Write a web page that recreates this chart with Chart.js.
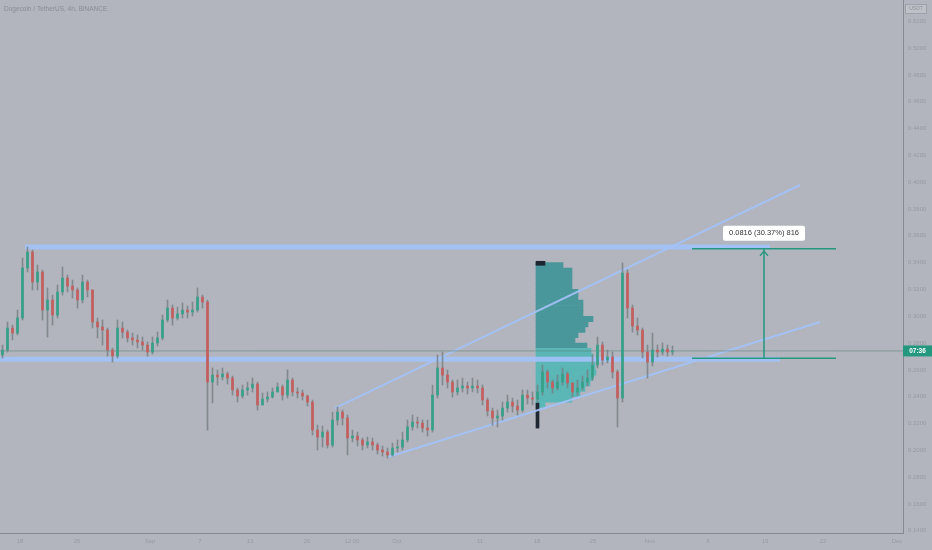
<!DOCTYPE html>
<html lang="en">
<head>
<meta charset="UTF-8">
<title>Dogecoin / TetherUS, 4h</title>
<script src="https://cdn.jsdelivr.net/npm/chart.js"></script>
<style>
  html, body { margin: 0; padding: 0; background: #b2b5bd; }
  #wrap { width: 932px; height: 550px; }
</style>
</head>
<body>
<div id="wrap"><canvas id="chart" width="932" height="550"></canvas></div>
<script>
// candles (one slot = one candle)
const closes = [
  0.2748,0.2912,0.2875,0.2987,0.3360,0.3479,0.3255,0.3330,0.3046,0.3121,
  0.3009,0.3181,0.3285,0.3225,0.3196,0.3121,0.3255,0.3196,0.2957,0.2920,
  0.2897,0.2748,0.2703,0.2912,0.2882,0.2838,0.2823,0.2808,0.2785,0.2733,
  0.2800,0.2838,0.2972,0.3061,0.2987,0.3017,0.3046,0.3031,0.3046,0.3143,
  0.3106,0.2509,0.2561,0.2547,0.2569,0.2539,0.2450,0.2405,0.2450,0.2465,
  0.2494,0.2338,0.2382,0.2397,0.2435,0.2472,0.2412,0.2524,0.2435,0.2427,
  0.2405,0.2360,0.2151,0.2099,0.2136,0.2039,0.2226,0.2285,0.2241,0.2092,
  0.2106,0.2077,0.2039,0.2062,0.2039,0.2002,0.1987,0.1965,0.2017,0.2024,
  0.2077,0.2174,0.2211,0.2203,0.2166,0.2151,0.2412,0.2614,0.2561,0.2509,
  0.2435,0.2465,0.2479,0.2465,0.2479,0.2465,0.2375,0.2293,0.2241,0.2256,
  0.2315,0.2360,0.2330,0.2300,0.2412,0.2390,0.2382,0.2435,0.2584,0.2509,
  0.2465,0.2509,0.2569,0.2502,0.2435,0.2465,0.2509,0.2539,0.2636,0.2785,
  0.2673,0.2696,0.2584,0.2390,0.3322,0.3061,0.2927,0.2897,0.2733,0.2658,
  0.2748,0.2733,0.2755,0.2733,0.2741
];
const highs = [
  0.2785,0.2957,0.2934,0.3046,0.3434,0.3516,0.3494,0.3382,0.3345,0.3211,
  0.3158,0.3233,0.3367,0.3307,0.3270,0.3211,0.3307,0.3270,0.3196,0.2987,
  0.2972,0.2912,0.2763,0.2972,0.2957,0.2897,0.2875,0.2860,0.2845,0.2808,
  0.2845,0.2882,0.3009,0.3121,0.3084,0.3069,0.3099,0.3076,0.3106,0.3211,
  0.3158,0.3121,0.2614,0.2599,0.2614,0.2584,0.2554,0.2465,0.2487,0.2509,
  0.2539,0.2509,0.2427,0.2435,0.2465,0.2502,0.2487,0.2599,0.2539,0.2465,
  0.2450,0.2412,0.2375,0.2188,0.2181,0.2151,0.2285,0.2323,0.2300,0.2263,
  0.2151,0.2136,0.2092,0.2099,0.2092,0.2054,0.2032,0.2017,0.2054,0.2077,
  0.2136,0.2226,0.2263,0.2248,0.2226,0.2226,0.2487,0.2711,0.2733,0.2599,
  0.2524,0.2524,0.2539,0.2509,0.2539,0.2524,0.2487,0.2390,0.2315,0.2300,
  0.2360,0.2412,0.2390,0.2375,0.2450,0.2450,0.2435,0.2487,0.2636,0.2599,
  0.2524,0.2561,0.2614,0.2584,0.2502,0.2524,0.2554,0.2599,0.2711,0.2845,
  0.2808,0.2748,0.2733,0.2599,0.3397,0.3345,0.3084,0.2987,0.2912,0.2785,
  0.2875,0.2785,0.2800,0.2785,0.2778
];
const lows = [
  0.2688,0.2733,0.2823,0.2860,0.2972,0.3330,0.3196,0.3196,0.2972,0.2845,
  0.2934,0.2987,0.3158,0.3181,0.3136,0.3061,0.3099,0.3143,0.2912,0.2838,
  0.2785,0.2703,0.2658,0.2688,0.2838,0.2808,0.2785,0.2763,0.2748,0.2703,
  0.2718,0.2778,0.2823,0.2957,0.2934,0.2972,0.2987,0.2987,0.3002,0.3031,
  0.3061,0.2151,0.2353,0.2487,0.2524,0.2494,0.2412,0.2360,0.2390,0.2412,
  0.2435,0.2300,0.2338,0.2360,0.2390,0.2435,0.2375,0.2390,0.2405,0.2390,
  0.2375,0.2330,0.2114,0.2002,0.2024,0.2017,0.2024,0.2188,0.2188,0.1965,
  0.2062,0.2032,0.2002,0.2017,0.2002,0.1972,0.1957,0.1942,0.1957,0.1987,
  0.2002,0.2062,0.2151,0.2166,0.2136,0.2106,0.2136,0.2390,0.2487,0.2465,
  0.2397,0.2412,0.2435,0.2420,0.2435,0.2427,0.2338,0.2256,0.2188,0.2174,
  0.2226,0.2285,0.2285,0.2263,0.2285,0.2345,0.2338,0.2360,0.2412,0.2465,
  0.2427,0.2450,0.2487,0.2465,0.2397,0.2412,0.2450,0.2479,0.2524,0.2614,
  0.2636,0.2651,0.2539,0.2174,0.2360,0.2987,0.2882,0.2860,0.2688,0.2539,
  0.2629,0.2696,0.2711,0.2703,0.2711
];
const firstOpen = 0.2711;

// axis ticks
const xTickPos = [3.5, 14.9, 29.5, 39.5, 49.5, 60.9, 69.9, 78.9, 95.5, 106.9, 118.1, 129.5, 141.1, 152.5, 164.1, 178.9];
const xTickLabels = ['18', '25', 'Sep', '7', '13', '20', '12:00', 'Oct', '11', '18', '25', 'Nov', '8', '15', '22', 'Dec'];
const yTicks = [0.14, 0.16, 0.18, 0.20, 0.22, 0.24, 0.26, 0.28, 0.30, 0.32, 0.34, 0.36, 0.38, 0.40, 0.42, 0.44, 0.46, 0.48, 0.50, 0.52];

// volume profile (rows by price, volume in arbitrary units)
const profilePrices = [0.338,0.334,0.330,0.326,0.322,0.318,0.314,0.310,0.306,0.302,0.298,0.294,0.290,0.286,
                       0.282,0.278,0.274,0.270,0.266,0.262,0.258,0.254,0.250,0.246,0.242,0.238,0.234];
const profileVolumes = [27,36,36,36,36,42,42,47,47,47,57,52,49,42,39,51,55,57,59,59,60,57,54,49,44,36,9];
const valueAreaTop = 0.275;

// drawings
const resistance = 0.3516;
const resistanceSpan = [4.5, 153.5];
const support = 0.2680;
const supportSpan = [-0.5, 155.5];
const channelUpper = [[66.5, 0.2315], [159.5, 0.3979]];
const channelLower = [[77.1, 0.1950], [163.5, 0.2957]];
const measureFrom = 0.2687;
const measureTo = 0.3503;
const measureSpan = [137.9, 166.7];
const measureX = 152.3;
const measureBars = 816;
const countdown = '07:36';
const title = 'Dogecoin / TetherUS, 4h, BINANCE';

const opens = closes.map((c, i) => i === 0 ? firstOpen : closes[i - 1]);
const upColor = '#34a088', downColor = '#c45e5e';
const candleColors = closes.map((c, i) => c >= opens[i] ? upColor : downColor);
const lastClose = closes[closes.length - 1];

const blue = 'rgba(163,194,247,0.92)';
const teal = '#24977f';
const axisColor = '#868991';
const labelColor = '#979aa2';
const font = '"Liberation Sans", Arial, sans-serif';

function seg(points, color, width, order) {
    return {
        type: 'line',
        data: points.map(p => ({ x: p[0], y: p[1] })),
        borderColor: color,
        borderWidth: width,
        pointRadius: 0,
        fill: false,
        tension: 0,
        xAxisID: 'x',
        yAxisID: 'y',
        order: order
    };
}

const bgPlugin = {
    id: 'bg',
    beforeDraw(chart) {
        const c = chart.ctx;
        c.save();
        c.fillStyle = '#b2b5bd';
        c.fillRect(0, 0, chart.width, chart.height);
        c.restore();
    }
};

const overlayPlugin = {
    id: 'overlay',
    afterDraw(chart) {
        const c = chart.ctx;
        const x = chart.scales.x, y = chart.scales.y;
        const area = chart.chartArea;
        c.save();

        // title
        c.font = '6.5px ' + font;
        c.fillStyle = '#8a8d95';
        c.textAlign = 'left';
        c.textBaseline = 'middle';
        c.fillText(title, 4, 9);

        // small box top right
        c.fillStyle = '#bec1c8';
        c.strokeStyle = '#9ea1a9';
        c.lineWidth = 1;
        c.fillRect(905.5, 4.5, 21, 9);
        c.strokeRect(905.5, 4.5, 21, 9);
        c.fillStyle = '#8f929a';
        c.font = '5px ' + font;
        c.textAlign = 'center';
        c.fillText('USDT', 916, 9);

        // measure arrow head
        const ax = x.getPixelForValue(measureX);
        const ay = y.getPixelForValue(measureTo);
        c.strokeStyle = teal;
        c.lineWidth = 1.3;
        c.beginPath();
        c.moveTo(ax - 4, ay + 7);
        c.lineTo(ax, ay + 2.5);
        c.lineTo(ax + 4, ay + 7);
        c.stroke();

        // measure label
        const diff = measureTo - measureFrom;
        const text = diff.toFixed(4) + ' (' + (diff / measureFrom * 100).toFixed(2) + '%) ' + measureBars;
        c.font = '7.5px ' + font;
        const w = c.measureText(text).width + 12;
        c.fillStyle = '#ffffff';
        c.beginPath();
        c.roundRect(ax - w / 2, ay - 23, w, 15, 2);
        c.fill();
        c.fillStyle = '#333333';
        c.textAlign = 'center';
        c.fillText(text, ax, ay - 15.5);

        // countdown tag on price axis
        const py = y.getPixelForValue(lastClose);
        c.fillStyle = teal;
        c.fillRect(area.right, py - 5.5, chart.width - area.right, 11);
        c.fillStyle = '#ffffff';
        c.font = 'bold 6.5px ' + font;
        c.fillText(countdown, area.right + (chart.width - area.right) / 2, py + 0.5);

        c.restore();
    }
};

const ctx = document.getElementById('chart').getContext('2d');
new Chart(ctx, {
    type: 'bar',
    data: {
        datasets: [
            // measure tool
            seg([[measureSpan[0], measureTo], [measureSpan[1], measureTo]], teal, 1.5, 0),
            seg([[measureSpan[0], measureFrom], [measureSpan[1], measureFrom]], teal, 1.5, 0),
            seg([[measureX, measureFrom], [measureX, measureTo]], teal, 1.5, 0),
            // candles
            {
                type: 'bar',
                data: closes.map((c, i) => ({ x: i, y: [opens[i], c] })),
                backgroundColor: candleColors,
                barThickness: 2,
                minBarLength: 1,
                grouped: false,
                borderWidth: 0,
                xAxisID: 'x', yAxisID: 'y',
                order: 1
            },
            {
                type: 'bar',
                data: closes.map((c, i) => ({ x: i, y: [lows[i], highs[i]] })),
                backgroundColor: 'rgba(118,126,130,0.8)',
                barThickness: 1,
                grouped: false,
                borderWidth: 0,
                xAxisID: 'x', yAxisID: 'y',
                order: 2
            },
            // price line
            seg([[-0.5, lastClose], [180.1, lastClose]], 'rgba(90,128,122,0.55)', 1, 3),
            // levels and channel
            seg([[resistanceSpan[0], resistance], [resistanceSpan[1], resistance]], blue, 5, 3),
            seg([[supportSpan[0], support], [supportSpan[1], support]], blue, 5, 3),
            seg(channelUpper, blue, 2, 3),
            seg(channelLower, blue, 2, 3),
            // volume profile
            {
                type: 'bar',
                indexAxis: 'y',
                data: profilePrices.map((p, i) => ({ x: profileVolumes[i], y: p })),
                backgroundColor: profilePrices.map(p => p <= valueAreaTop ? '#5bb6b6' : '#4a979b'),
                barThickness: 5.4,
                grouped: false,
                borderWidth: 0,
                xAxisID: 'xp', yAxisID: 'y',
                order: 5
            },
            {
                type: 'bar',
                indexAxis: 'y',
                data: [{ x: 9, y: 0.3395 }],
                backgroundColor: '#1d2631',
                barThickness: 4,
                grouped: false,
                borderWidth: 0,
                xAxisID: 'xp', yAxisID: 'y',
                order: 4
            },
            {
                type: 'bar',
                indexAxis: 'y',
                data: [{ x: 3, y: 0.2259 }],
                backgroundColor: '#1d2631',
                barThickness: 25,
                grouped: false,
                borderWidth: 0,
                xAxisID: 'xp', yAxisID: 'y',
                order: 4
            }
        ]
    },
    options: {
        responsive: false,
        animation: false,
        layout: { padding: 0 },
        plugins: {
            legend: { display: false },
            tooltip: { enabled: false }
        },
        scales: {
            x: {
                type: 'linear',
                position: 'bottom',
                offset: false,
                min: -0.5,
                max: 180.1,
                grid: { display: false, drawTicks: false, tickLength: 0, offset: false },
                border: { display: true, color: axisColor, width: 1 },
                ticks: {
                    autoSkip: false,
                    maxRotation: 0,
                    padding: 5,
                    color: labelColor,
                    font: { family: font, size: 6 },
                    callback: (v, i) => xTickLabels[i]
                },
                afterBuildTicks: s => { s.ticks = xTickPos.map(v => ({ value: v })); },
                afterFit: s => { s.height = 17; s.paddingLeft = 0; s.paddingRight = 0; }
            },
            xp: {
                type: 'linear',
                display: false,
                offset: false,
                min: -536,
                max: 367
            },
            y: {
                type: 'linear',
                position: 'right',
                offset: false,
                min: 0.1383,
                max: 0.5359,
                grid: { display: false, drawTicks: false, tickLength: 0, offset: false },
                border: { display: true, color: axisColor, width: 1 },
                ticks: {
                    padding: 5,
                    color: labelColor,
                    font: { family: font, size: 6 },
                    callback: v => v.toFixed(4)
                },
                afterBuildTicks: s => { s.ticks = yTicks.map(v => ({ value: v })); },
                afterFit: s => { s.width = 29; s.paddingTop = 0; s.paddingBottom = 0; }
            }
        }
    },
    plugins: [bgPlugin, overlayPlugin]
});
</script>
</body>
</html>
